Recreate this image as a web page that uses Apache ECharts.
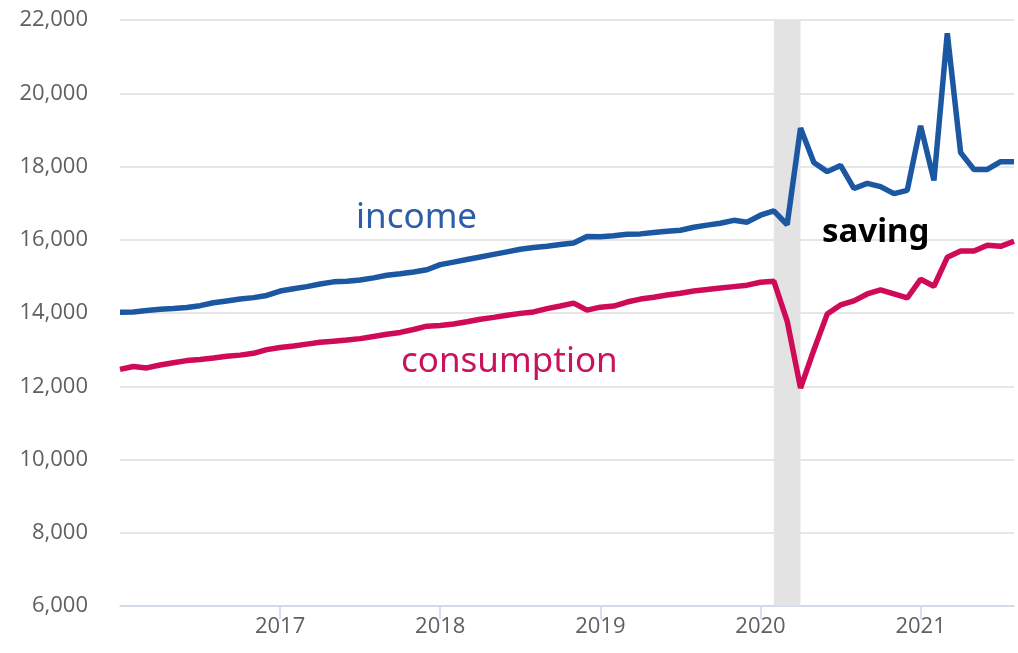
<!DOCTYPE html>
<html>
<head>
<meta charset="utf-8">
<script src="https://cdn.jsdelivr.net/npm/echarts@6/dist/echarts.min.js"></script>
<style>
  html, body { margin: 0; padding: 0; background: #fff; }
  #chart { width: 1018px; height: 653px; }
</style>
</head>
<body>
<div id="chart"></div>
<script>
// monthly, Jan 2016 .. Aug 2021
const years = ['2016', '2017', '2018', '2019', '2020', '2021']
const monthsPerYear = ['01', '02', '03', '04', '05', '06', '07', '08', '09', '10', '11', '12']
const lastMonth = '2021-08'

const income = [
  14020, 14030, 14070, 14100, 14120, 14150, 14200, 14280, 14330, 14380, 14420, 14480,
  14600, 14660, 14720, 14790, 14850, 14870, 14900, 14960, 15030, 15070, 15120, 15180,
  15320, 15390, 15460, 15530, 15600, 15670, 15740, 15790, 15820, 15870, 15910, 16090,
  16080, 16110, 16150, 16160, 16200, 16230, 16260, 16340, 16400, 16450, 16530, 16480,
  16670, 16790, 16410, 19050, 18110, 17860, 18030, 17400, 17540, 17450, 17260, 17350,
  19110, 17620, 21640, 18380, 17920, 17920, 18130, 18130
]

const consumption = [
  12460, 12540, 12500, 12580, 12640, 12700, 12730, 12770, 12820, 12850, 12900, 13000,
  13060, 13100, 13150, 13200, 13230, 13260, 13300, 13360, 13420, 13470, 13550, 13640,
  13660, 13700, 13760, 13830, 13880, 13940, 13990, 14030, 14120, 14190, 14270, 14080,
  14160, 14190, 14300, 14380, 14430, 14490, 14540, 14600, 14640, 14680, 14720, 14760,
  14840, 14870, 13780, 11950, 12990, 13970, 14220, 14330, 14520, 14630, 14520, 14410,
  14920, 14730, 15520, 15690, 15690, 15850, 15820, 15960
]

const recession = ['2020-02', '2020-04']

const months = []
years.forEach(y => monthsPerYear.forEach(m => {
  const k = y + '-' + m
  if (k <= lastMonth) months.push(k)
}))

const isYearStart = (i, v) => i > 0 && v.endsWith('-01')

const labelText = (text, left, top, fill, weight, size) => ({
  type: 'text', left, top, z: 10,
  style: {
    text, fill,
    fontFamily: 'Noto Sans',
    fontSize: size,
    fontWeight: weight,
    lineHeight: 48
  }
})

const chart = echarts.init(document.getElementById('chart'))
chart.setOption({
  animation: false,
  grid: { left: 120, right: 4, top: 20, bottom: 47 },
  xAxis: {
    type: 'category',
    data: months,
    boundaryGap: false,
    axisLine: { lineStyle: { color: '#ccd6eb', width: 1.5 } },
    axisTick: { interval: isYearStart, length: 13, lineStyle: { color: '#ccd6eb', width: 1.5 } },
    axisLabel: {
      interval: isYearStart,
      formatter: v => v.slice(0, 4),
      color: '#606060',
      fontFamily: 'Open Sans',
      fontSize: 22,
      margin: 10
    },
    splitLine: { show: false }
  },
  yAxis: {
    type: 'value',
    min: 6000,
    max: 22000,
    interval: 2000,
    axisLine: { show: false },
    axisTick: { show: false },
    axisLabel: {
      formatter: v => v.toLocaleString('en-US'),
      color: '#606060',
      fontFamily: 'Open Sans',
      fontSize: 22,
      margin: 32
    },
    splitLine: { lineStyle: { color: '#e6e6e6', width: 2 } }
  },
  series: [
    {
      name: 'income',
      type: 'line',
      data: income,
      symbol: 'none',
      lineStyle: { color: '#1c58a2', width: 5.5 },
      markArea: {
        silent: true,
        itemStyle: { color: '#e3e3e3' },
        data: [[{ xAxis: recession[0] }, { xAxis: recession[1] }]]
      },
      z: 3
    },
    {
      name: 'consumption',
      type: 'line',
      data: consumption,
      symbol: 'none',
      lineStyle: { color: '#cf0a58', width: 5.5 },
      z: 3
    }
  ],
  graphic: [
    labelText('income', 356, 194, '#2b5ea6', 'normal', 35),
    labelText('consumption', 401, 338, '#c8145c', 'normal', 35),
    labelText('saving', 822, 209, '#000', 'bold', 33)
  ]
})
</script>
</body>
</html>
